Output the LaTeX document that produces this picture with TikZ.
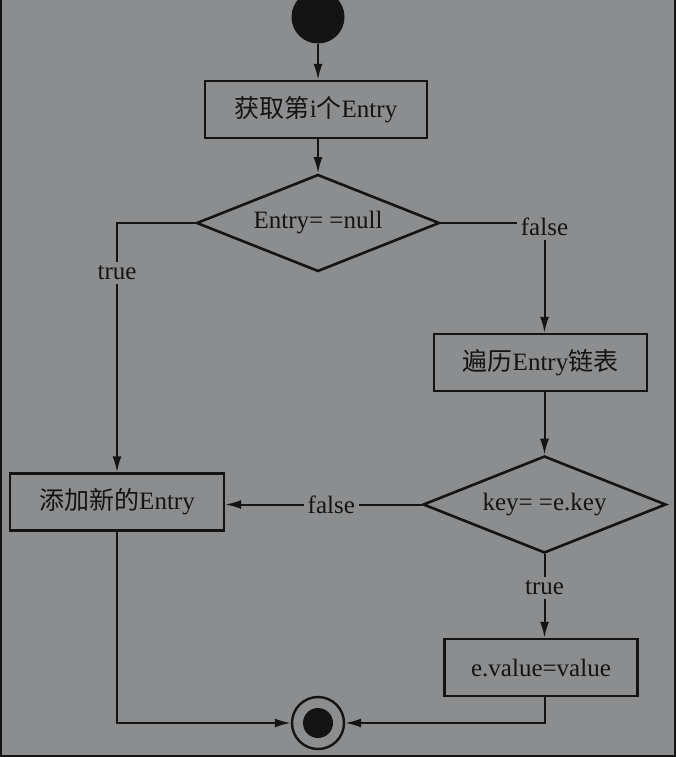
\documentclass[tikz,border=0pt]{standalone}
\usepackage{fontspec}
\setmainfont{Liberation Serif}
\newfontfamily\cjk{Noto Sans CJK SC}
\usetikzlibrary{shapes.geometric,arrows.meta}
\definecolor{bg}{HTML}{8C8D8F}
\definecolor{ink}{HTML}{141414}

\begin{document}
\begin{tikzpicture}[x=1pt,y=-1pt]
                \tikzstyle{box}=[rectangle, draw=ink, line width=2.4pt, minimum height=57pt, inner sep=0pt, text=ink, font=\fontsize{25}{30}\selectfont]
                \tikzstyle{dec}=[diamond, aspect=2.5, draw=ink, line width=2.6pt, minimum width=243pt, minimum height=97pt, inner sep=0pt, text=ink, font=\fontsize{25}{30}\selectfont]
                \tikzstyle{lbl}=[fill=bg, inner sep=4pt, text=ink, font=\fontsize{25}{30}\selectfont]
                \tikzstyle{flow}=[draw=ink, line width=2pt, -{Latex[length=16pt,width=9pt]}]

                \useasboundingbox (0,0) rectangle (676,757);
                \fill[bg] (0,0) rectangle (676,757);
                \draw[ink, line width=2.5pt] (1,0) -- (1,756) -- (675,756) -- (675,0);

                \node[circle, fill=ink, minimum size=53pt, inner sep=0pt] (start) at (318,17) {};
                \node[box, minimum width=222pt] (fetch) at (316,109.5) {{\cjk 获取第}i{\cjk 个}Entry};
                \node[dec] (isnull) at (318,223) {Entry= =null};
                \node[box, minimum width=213pt] (walk) at (540.5,362.5) {{\cjk 遍历}Entry{\cjk 链表}};
                \node[dec] (iskey) at (544.5,504.5) {key= =e.key};
                \node[box, minimum width=214pt] (add) at (117,502) {{\cjk 添加新的}Entry};
                \node[box, minimum width=193pt] (setval) at (541,667.5) {e.value=value};
                \node[circle, draw=ink, line width=2.4pt, minimum size=52pt, inner sep=0pt] (stop) at (318,723) {};
                \node[circle, fill=ink, minimum size=30pt, inner sep=0pt] (stopdot) at (318,723) {};

                \draw[flow] (start) -- (start |- fetch.north);
                \draw[flow] (fetch.south -| isnull) -- (isnull.north);
                \draw[flow] (isnull.west) -| node[lbl, pos=0.6] {true} (add.north);
                \draw[flow] (isnull.east) -| node[lbl, pos=0.5, yshift=-4pt] {false} (walk.north -| iskey);
                \draw[flow] (walk.south -| iskey) -- (iskey.north);
                \draw[flow] (iskey.west) -- node[lbl, pos=0.46] {false} (iskey.west -| add.east);
                \draw[flow] (iskey.south) -- node[lbl, pos=0.4] {true} (iskey.south |- setval.north);
                \draw[flow] (add.south) |- (stop.west);
                \draw[flow] (setval.south -| iskey) |- (stop.east);
            \end{tikzpicture}
\end{document}
